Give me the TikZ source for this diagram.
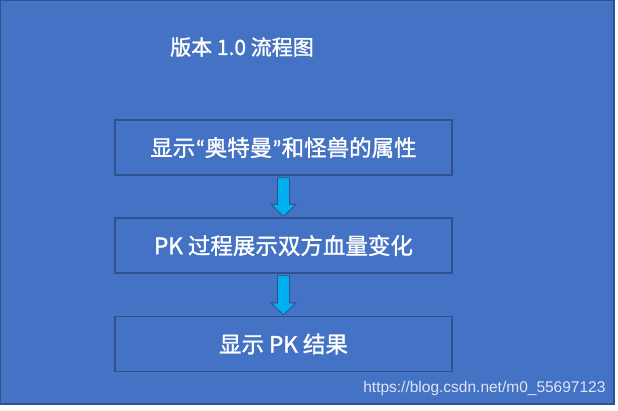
\documentclass[tikz,border=0pt]{standalone}
\usepackage{fontspec}
\setmainfont{Noto Sans CJK SC}[FakeBold=1.3]
\newfontfamily\quotefont{Carlito}[FakeBold=1.3]
\newfontfamily\markfont{Liberation Sans}
\usetikzlibrary{positioning,calc}
\definecolor{panelblue}{HTML}{4472C4}
\definecolor{edgeblue}{HTML}{2F528F}
\definecolor{flowcyan}{HTML}{00B0F0}
\tikzset{
	stepbox/.style={draw=edgeblue,line width=1.3pt,fill=panelblue,text=white,minimum width=337pt,minimum height=55pt,inner sep=0pt,font=\fontsize{22.5}{26}\selectfont},
	flowarrow/.style={draw=edgeblue,line width=0.8pt,fill=flowcyan,line join=miter}
}
\begin{document}
\begin{tikzpicture}[x=1pt,y=-1pt]
				\useasboundingbox (0,0) rectangle (618,410);
				\fill[white] (0,0) rectangle (618,410);
				\draw[draw=edgeblue,fill=panelblue,line width=1.3pt] (0.7,0.7) rectangle (614,404);
				
				\node[text=white,font=\fontsize{21}{25}\selectfont](title) at (242,47) {版本 1.0 流程图};
				\node[stepbox](show) at (283.5,147.5) {显示{\quotefont“}奥特曼{\quotefont”}和怪兽的属性};
				\node[stepbox](pk) at (283.5,245.5) {PK 过程展示双方血量变化};
				\node[stepbox](result) at (283.5,344) {显示 PK 结果};
				\node[text=white!82!panelblue,font=\markfont\fontsize{15.5}{18}\selectfont,anchor=east](mark) at (609,388) {https://blog.csdn.net/m0\_55697123};
				
				\draw[flowarrow] ($(show.south)+(-6,2)$) -- ($(pk.north)+(-6,-13)$) -- ++(-6.5,0) -- ($(pk.north)+(0,-1)$) -- ($(pk.north)+(12.5,-13)$) -- ++(-6.5,0) -- ($(show.south)+(6,2)$) -- cycle;
				\draw[flowarrow] ($(pk.south)+(-6,2)$) -- ($(result.north)+(-6,-13)$) -- ++(-6.5,0) -- ($(result.north)+(0,-1)$) -- ($(result.north)+(12.5,-13)$) -- ++(-6.5,0) -- ($(pk.south)+(6,2)$) -- cycle;
			\end{tikzpicture}
\end{document}
